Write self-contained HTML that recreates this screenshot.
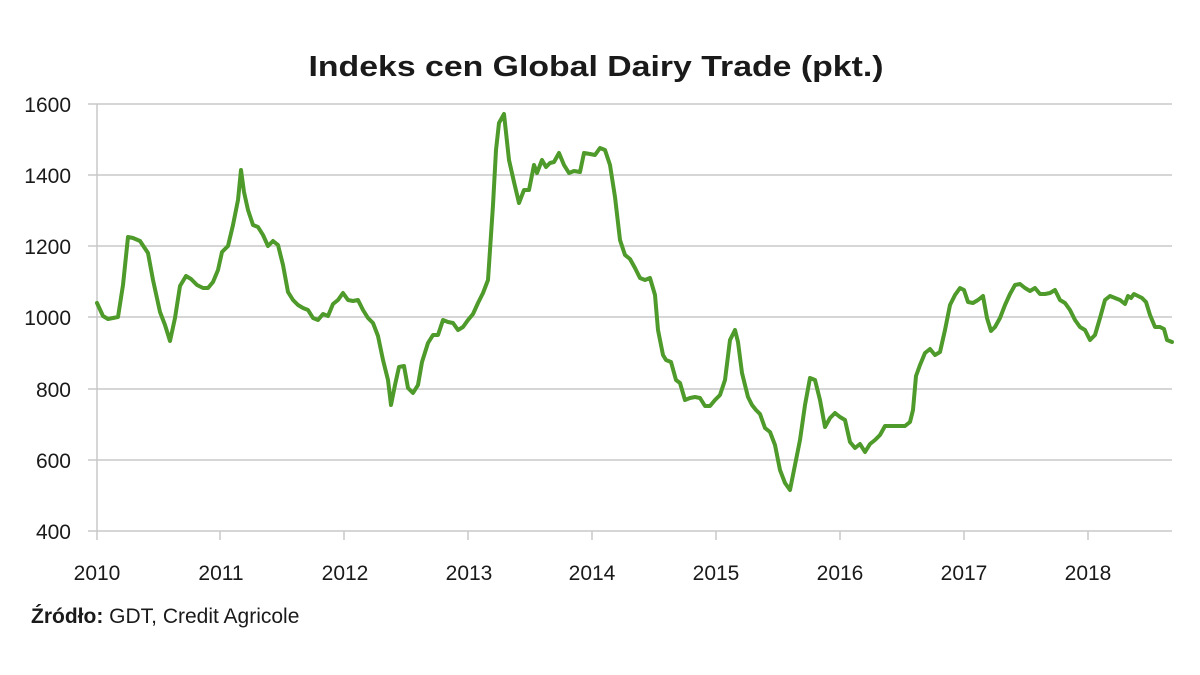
<!DOCTYPE html>
<html><head><meta charset="utf-8"><style>
html,body{margin:0;padding:0;background:#fff;}
svg{display:block;}
text{font-family:"Liberation Sans","DejaVu Sans",sans-serif;fill:#1a1a1a;}
</style></head><body>
<svg width="1200" height="675" viewBox="0 0 1200 675" xmlns="http://www.w3.org/2000/svg">
<rect width="1200" height="675" fill="#fff"/>
<text x="596" y="76" text-anchor="middle" font-size="29" font-weight="bold" textLength="575" lengthAdjust="spacingAndGlyphs">Indeks cen Global Dairy Trade (pkt.)</text>
<g stroke="#c8c8c8" stroke-width="1.5">
<line x1="88" y1="104" x2="1172" y2="104"/>
<line x1="88" y1="175" x2="1172" y2="175"/>
<line x1="88" y1="246" x2="1172" y2="246"/>
<line x1="88" y1="317" x2="1172" y2="317"/>
<line x1="88" y1="389" x2="1172" y2="389"/>
<line x1="88" y1="460" x2="1172" y2="460"/>
<line x1="88" y1="531" x2="1172" y2="531"/>
<line x1="97" y1="104" x2="97" y2="540"/>
<line x1="220" y1="531" x2="220" y2="540"/>
<line x1="344" y1="531" x2="344" y2="540"/>
<line x1="468" y1="531" x2="468" y2="540"/>
<line x1="592" y1="531" x2="592" y2="540"/>
<line x1="716" y1="531" x2="716" y2="540"/>
<line x1="840" y1="531" x2="840" y2="540"/>
<line x1="964" y1="531" x2="964" y2="540"/>
<line x1="1088" y1="531" x2="1088" y2="540"/>
</g>
<g font-size="21" text-anchor="end">
<text x="71" y="112">1600</text><text x="71" y="183">1400</text><text x="71" y="254">1200</text>
<text x="71" y="325">1000</text><text x="71" y="397">800</text><text x="71" y="468">600</text><text x="71" y="539">400</text>
</g>
<g font-size="21" text-anchor="middle">
<text x="97" y="580">2010</text><text x="221" y="580">2011</text><text x="345" y="580">2012</text>
<text x="469" y="580">2013</text><text x="592" y="580">2014</text><text x="716" y="580">2015</text>
<text x="840" y="580">2016</text><text x="964" y="580">2017</text><text x="1088" y="580">2018</text>
</g>
<text x="31" y="623" font-size="21"><tspan font-weight="bold">Źródło:</tspan> GDT, Credit Agricole</text>
<polyline fill="none" stroke="#4e9a2a" stroke-width="4" stroke-linejoin="round" stroke-linecap="round" points="97,303 103,316 108,319 118,317 123,285 128,237 133,238 140,241 148,253 153,280 160,312 165,325 170,341 175,318 180,286 186,276 191,279 197,285 203,288 208,288 213,282 218,270 222,252 228,246 233,225 238,200 241,170 244,192 248,210 253,225 258,227 263,235 268,246 273,241 278,245 283,265 288,292 293,300 298,305 303,308 308,310 313,318 318,320 323,314 328,316 333,304 338,300 343,293 348,300 353,301 358,300 363,310 368,318 373,323 378,336 383,360 388,380 391,405 395,385 399,367 404,366 408,388 413,393 418,385 422,362 428,343 433,335 438,335 443,320 448,322 453,323 458,330 463,327 468,320 473,314 478,303 483,293 488,280 493,205 496,150 499,123 504,114 509,160 514,182 519,203 524,190 529,190 534,165 537,173 542,160 546,167 550,163 554,162 559,153 564,165 569,173 574,171 580,172 584,153 590,154 595,155 600,148 605,150 610,165 615,197 620,240 625,255 630,259 635,268 640,278 645,280 650,278 655,295 658,330 663,355 666,360 671,362 676,380 680,383 685,400 690,398 695,397 700,398 705,406 710,406 715,400 720,395 725,380 730,340 735,330 738,342 742,373 748,397 752,405 756,410 760,414 765,428 770,432 775,445 780,470 785,483 790,490 795,465 800,440 805,405 810,378 815,380 820,400 825,427 830,418 835,413 840,417 845,420 850,442 855,448 860,444 865,452 870,444 875,440 880,435 885,426 890,426 895,426 900,426 905,426 910,422 913,410 916,376 920,365 925,353 930,349 935,355 940,352 945,330 950,305 955,295 960,288 964,290 968,302 973,303 978,300 983,296 987,318 991,331 995,327 1000,318 1005,305 1010,294 1015,285 1020,284 1025,288 1030,291 1035,288 1040,294 1045,294 1050,293 1055,290 1060,300 1065,303 1070,310 1075,320 1080,327 1085,330 1090,340 1095,335 1100,318 1105,300 1110,296 1115,298 1120,300 1125,304 1128,296 1131,298 1134,294 1138,296 1142,298 1146,302 1150,315 1155,327 1160,327 1164,329 1167,340 1172,342"/>
</svg>
</body></html>
